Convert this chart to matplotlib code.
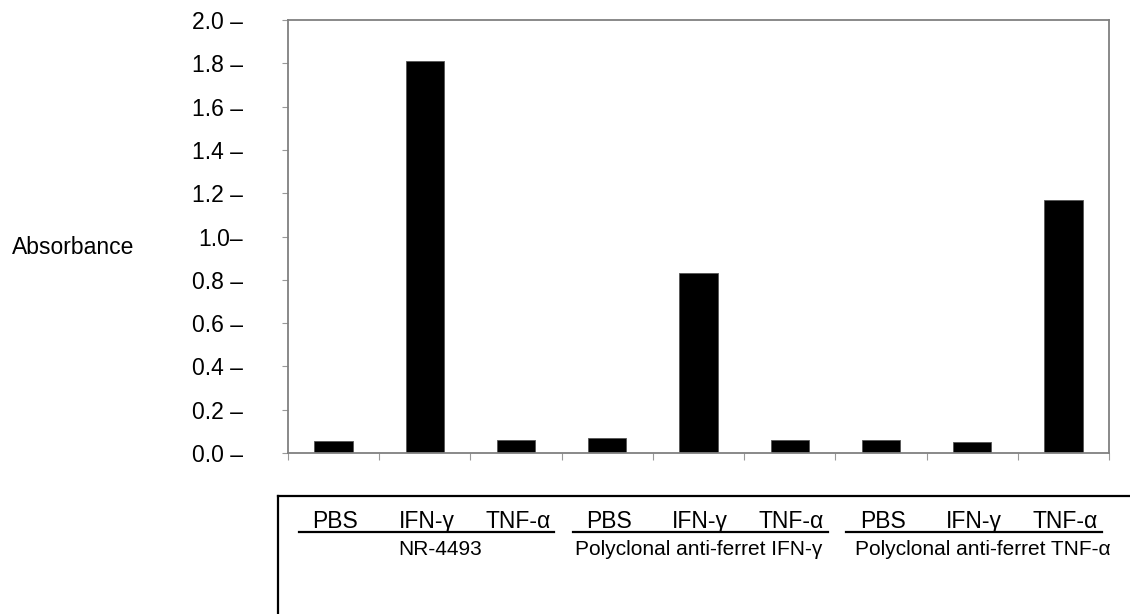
import numpy as np
import matplotlib.pyplot as plt
from matplotlib.lines import Line2D
import matplotlib.transforms as mtransforms

plt.rcParams['font.family'] = ['Liberation Sans', 'DejaVu Sans']

# data
categories = ['PBS', 'IFN-γ', 'TNF-α'] * 3
groups = ['NR-4493', 'Polyclonal anti-ferret IFN-γ', 'Polyclonal anti-ferret TNF-α']
values = [0.055, 1.81, 0.06, 0.07, 0.83, 0.06, 0.06, 0.05, 1.17]
yticks = [0.0, 0.2, 0.4, 0.6, 0.8, 1.0, 1.2, 1.4, 1.6, 1.8, 2.0]
ytick_labels = ['0.0 –', '0.2 –', '0.4 –', '0.6 –', '0.8 –', '1.0–', '1.2 –',
                '1.4 –', '1.6 –', '1.8 –', '2.0 –']

W, H = 1130, 614
fig = plt.figure(figsize=(11.3, 6.14), dpi=100)
ax = fig.add_axes([288 / W, 1 - 453 / H, (1109 - 288) / W, (453 - 20) / H])

x = np.arange(len(values))
ax.bar(x, values, width=0.42, color='black', edgecolor='#555555', linewidth=0.6)

ax.set_xlim(-0.5, len(values) - 0.5)
ax.set_ylim(0, 2.0)
ax.set_yticks(yticks)
ax.set_yticklabels(ytick_labels, fontsize=16.5)
ax.set_xticks(np.arange(len(values) + 1) - 0.5)
ax.set_xticklabels([])
ax.tick_params(axis='y', length=4.5, color='#999999', pad=28)
ax.tick_params(axis='x', length=5, color='#999999')
for s in ax.spines.values():
    s.set_color('#808080')
    s.set_linewidth(1.3)

fig.text(12 / W, 1 - 248 / H, 'Absorbance', fontsize=16.5, va='center', ha='left')

# box under the chart
fig.add_artist(Line2D([278 / W, 278 / W], [1 - 496 / H, 0], color='black', lw=1.6))
fig.add_artist(Line2D([278 / W, 1], [1 - 496 / H, 1 - 496 / H], color='black', lw=1.6))

trans = mtransforms.blended_transform_factory(ax.transData, fig.transFigure)
for i, c in enumerate(categories):
    fig.text(i + 0.02, 1 - 528 / H, c, transform=trans, ha='center', va='baseline',
             fontsize=16.5)

label_shift = [0.17, 0.0, 0.12]
for g, name in enumerate(groups):
    x0 = g * 3 - 0.38
    x1 = g * 3 + 2.42
    fig.add_artist(Line2D([x0, x1], [1 - 532 / H, 1 - 532 / H], transform=trans,
                          color='black', lw=1.6))
    fig.text(g * 3 + 1 + label_shift[g], 1 - 555 / H, name, transform=trans,
             ha='center', va='baseline', fontsize=15)

plt.savefig('out.png', dpi=100)
